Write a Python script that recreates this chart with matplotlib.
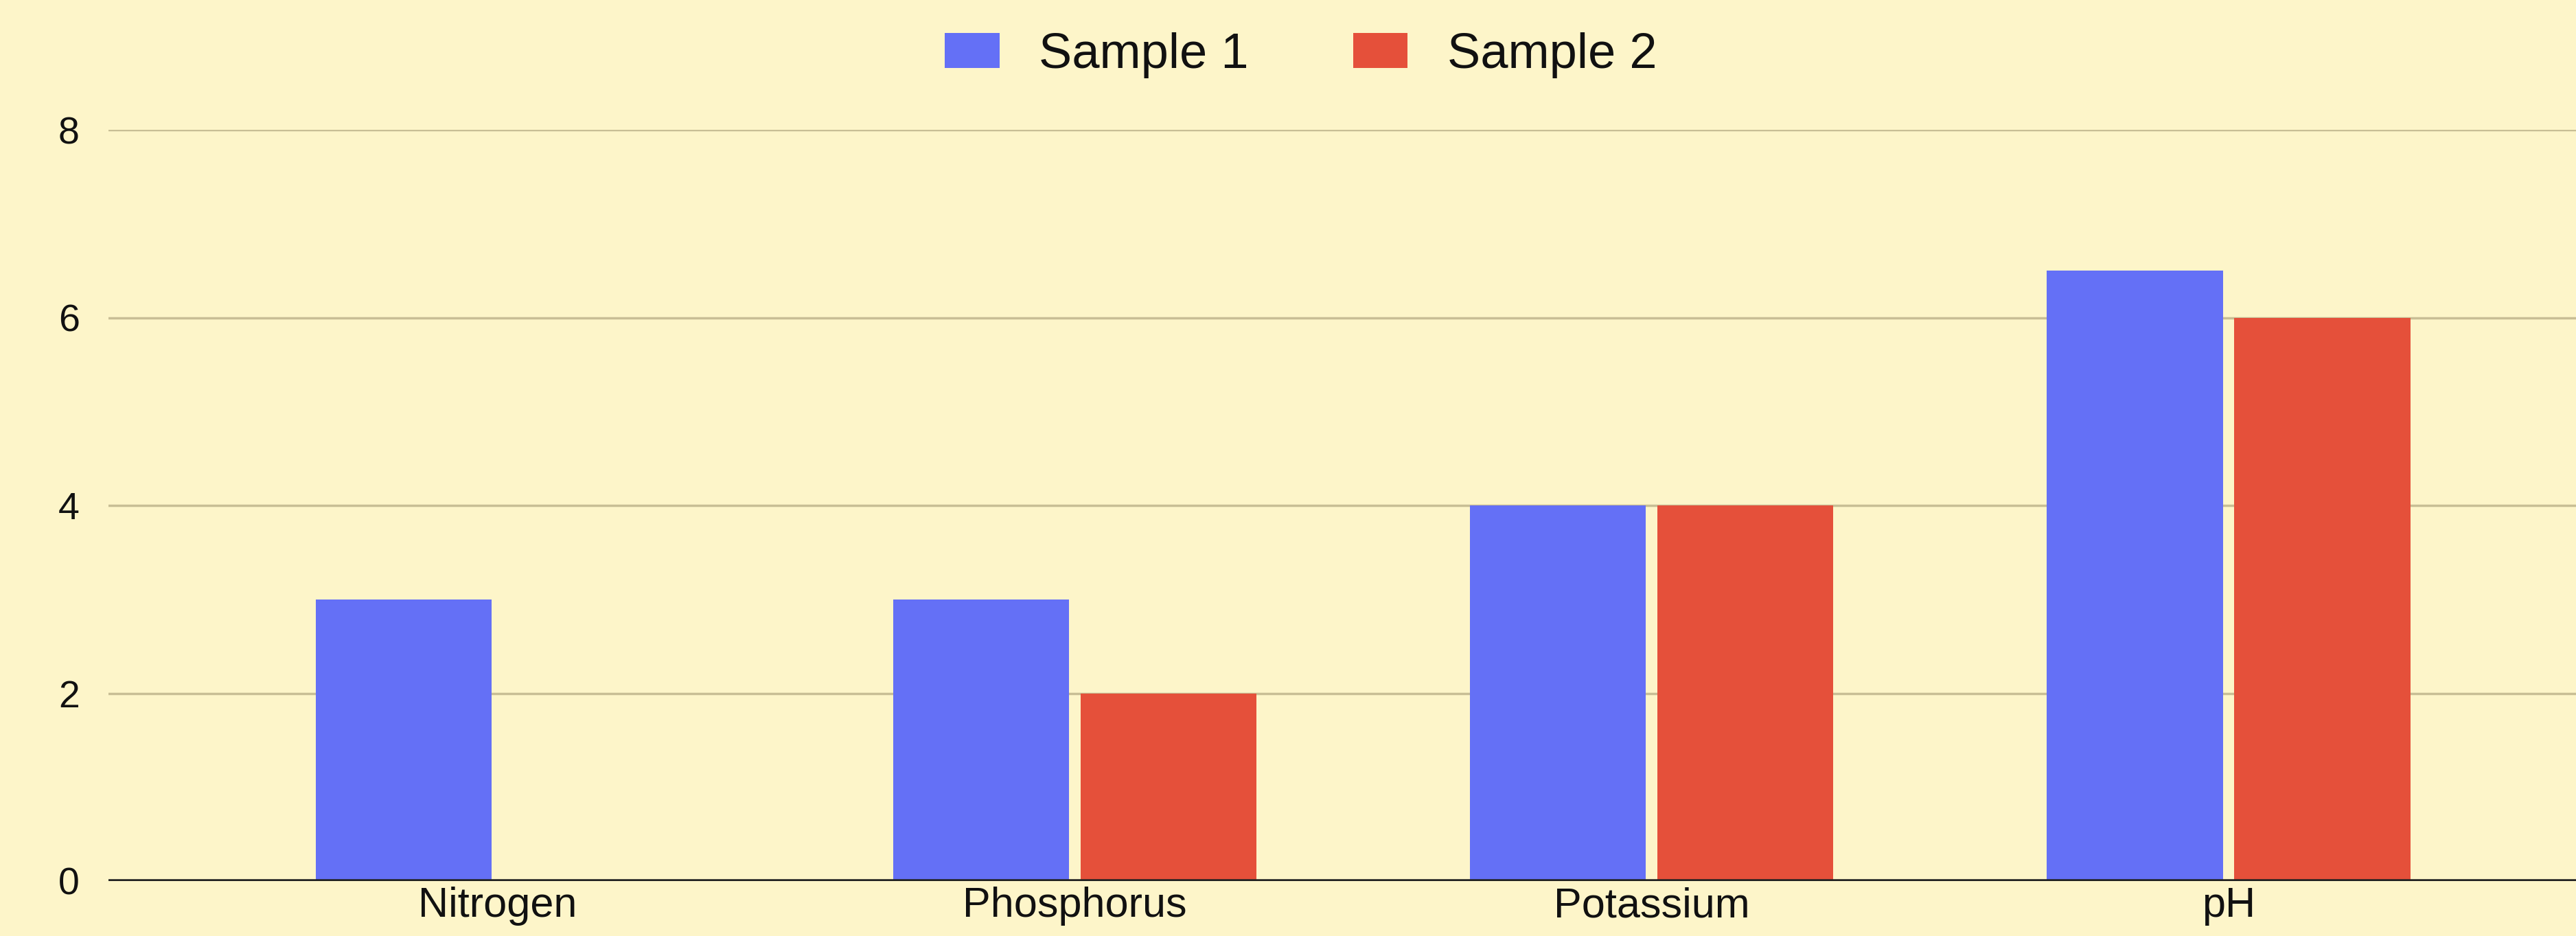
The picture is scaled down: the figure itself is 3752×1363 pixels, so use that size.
import numpy as np
import matplotlib.pyplot as plt

# Data
nutrients = ["Nitrogen", "Phosphorus", "Potassium", "pH"]
sample_1 = [3, 3, 4, 6.5]
sample_2 = [0, 2, 4, 6]
y_ticks = [0, 2, 4, 6, 8]

blue = "#6470F6"
red = "#E5503A"
bg = "#FDF5C9"
grid_col = "#C8BE95"

plt.rcParams["font.family"] = ["Liberation Sans", "DejaVu Sans"]

fig = plt.figure(figsize=(37.52, 13.63), dpi=100, facecolor=bg)
ax = fig.add_axes([0.042, 0.0587, 0.958, 0.8026], facecolor=bg)

x = np.arange(len(nutrients))
w = 0.305
gap = 0.01
ax.bar(x - w / 2 - gap, sample_1, width=w, color=blue, label="Sample 1", zorder=3)
ax.bar(x + w / 2 + gap, sample_2, width=w, color=red, label="Sample 2", zorder=3)

ax.set_xlim(-0.675, 3.602)
ax.set_ylim(0, 8)
ax.set_yticks(y_ticks)
ax.set_xticks(x)
ax.set_xticklabels(nutrients, fontsize=44, color="#111111")
ax.tick_params(axis="x", length=0, pad=6)
ax.tick_params(axis="y", length=0, pad=30, labelsize=40, labelcolor="#111111")

ax.grid(axis="y", color=grid_col, linewidth=2.5, zorder=0)
ax.axhline(0, color="#222222", linewidth=4, zorder=4)
for s in ax.spines.values():
    s.set_visible(False)

fig.legend(loc="center", bbox_to_anchor=(0.505, 0.941), ncol=2, frameon=False,
           fontsize=52, handlelength=1.1, handleheight=0.7, columnspacing=2.1,
           handletextpad=0.8, labelcolor="#111111")

fig.savefig("out.png", dpi=100, facecolor=bg)
